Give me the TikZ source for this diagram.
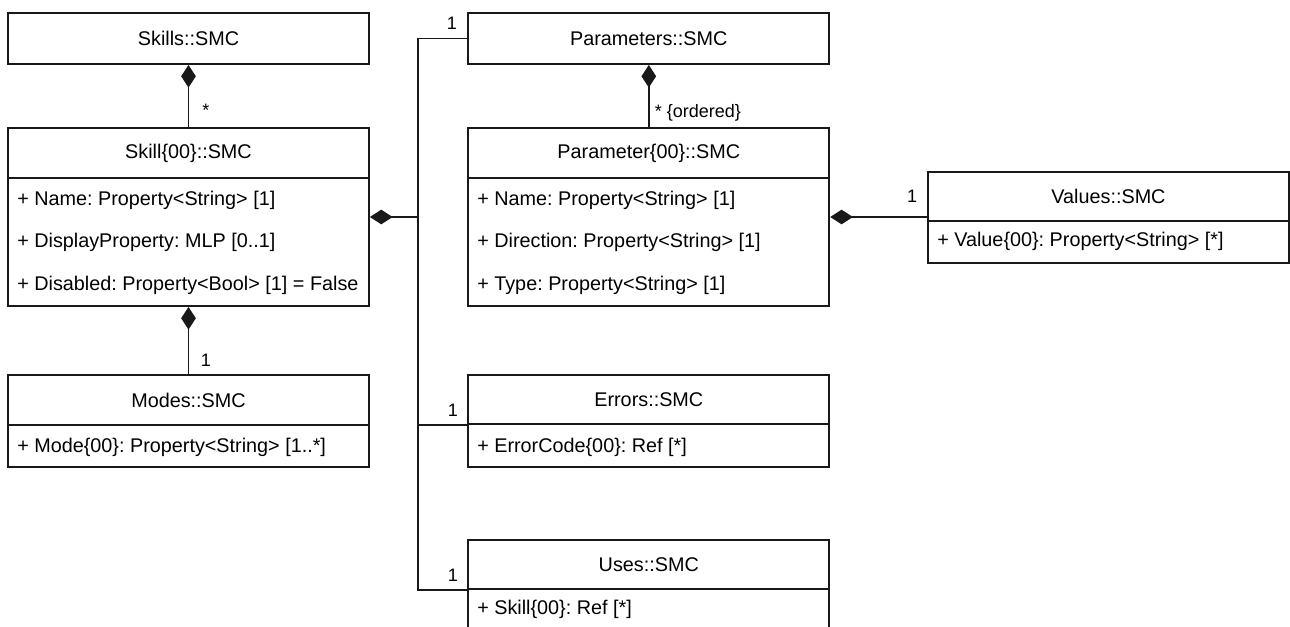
\documentclass[tikz,border=0pt]{standalone}
\usepackage{fontspec}
\setmainfont{Liberation Sans}
\usetikzlibrary{arrows.meta}
\frenchspacing
\begin{document}
\begin{tikzpicture}[x=0.75pt,y=-0.75pt,
  box/.style={draw=black!90, line width=1.4pt, minimum width=270.75pt, inner sep=0pt, font=\fontsize{14.85}{17}\selectfont},
  attr/.style={anchor=west, inner sep=0pt, font=\fontsize{14.85}{17}\selectfont\frenchspacing},
  lbl/.style={inner sep=0pt, font=\fontsize{13.5}{16}\selectfont},
  conn/.style={line width=1.2pt, draw=black!90},
  comp/.style={conn, {Diamond[length=17pt,width=11pt]}-}
]
\useasboundingbox (0,0) rectangle (1290,626);
\clip (0,0) rectangle (1290,626);

% left column
\node[box, minimum height=38.25pt] (skills) at (188.5,38.5) {Skills::SMC};
\node[box, minimum height=37.5pt] (skillh) at (188.5,153) {Skill\{00\}::SMC};
\node[box, minimum height=96pt] (skillb) at (188.5,242) {};
\node[attr] (sa1) at (17,200) {+ Name: Property<String> [1]};
\node[attr] (sa2) at (17,242) {+ DisplayProperty: MLP [0..1]};
\node[attr] (sa3) at (17,285) {+ Disabled: Property<Bool> [1] = False};
\node[box, minimum height=37.5pt] (modesh) at (188.5,400) {Modes::SMC};
\node[box, minimum height=31.5pt] (modesb) at (188.5,446) {};
\node[attr] (ma1) at (17,447) {+ Mode\{00\}: Property<String> [1..*]};

% middle column
\node[box, minimum height=38.25pt] (params) at (648.8,38.5) {Parameters::SMC};
\node[box, minimum height=37.5pt] (paramh) at (648.8,153) {Parameter\{00\}::SMC};
\node[box, minimum height=96pt] (paramb) at (648.8,242) {};
\node[attr] (pa1) at (477,200) {+ Name: Property<String> [1]};
\node[attr] (pa2) at (477,242) {+ Direction: Property<String> [1]};
\node[attr] (pa3) at (477,285) {+ Type: Property<String> [1]};
\node[box, minimum height=36.75pt] (errorsh) at (648.8,399.5) {Errors::SMC};
\node[box, minimum height=32.25pt] (errorsb) at (648.8,445.5) {};
\node[attr] (ea1) at (477,447) {+ ErrorCode\{00\}: Ref [*]};
\node[box, minimum height=36.75pt] (usesh) at (648.8,564.5) {Uses::SMC};
\node[box, minimum height=46.5pt] (usesb) at (648.8,620) {};
\node[attr] (ua1) at (477,609) {+ Skill\{00\}: Ref [*]};

% right column
\node[box, minimum height=36.75pt] (valuesh) at (1108.5,196.5) {Values::SMC};
\node[box, minimum height=31.5pt] (valuesb) at (1108.5,242) {};
\node[attr] (va1) at (937,241) {+ Value\{00\}: Property<String> [*]};

% connectors
\draw[comp] (skills.south) -- (skillh.north);
\draw[comp] (skillb.south) -- (modesh.north);
\draw[comp] (params.south) -- (paramh.north);
\draw[comp] (paramb.east |- 0,217) -- (valuesh.west |- 0,217);
\coordinate (jn) at (418,217);
\draw[comp] (skillb.east |- jn) -- (jn);
\draw[conn] (jn) |- (params.west);
\draw[conn] (jn) |- (errorsh.south west);
\draw[conn] (jn) |- (usesh.south west);

% multiplicities
\node[lbl] (m1) at (206,110) {*};
\node[lbl] (m2) at (206,360) {1};
\node[lbl] (m3) at (452,23) {1};
\node[lbl] (m4) at (698,113) {* \{ordered\}};
\node[lbl] (m5) at (912,196) {1};
\node[lbl] (m6) at (453,410) {1};
\node[lbl] (m7) at (453,575) {1};
\end{tikzpicture}
\end{document}
